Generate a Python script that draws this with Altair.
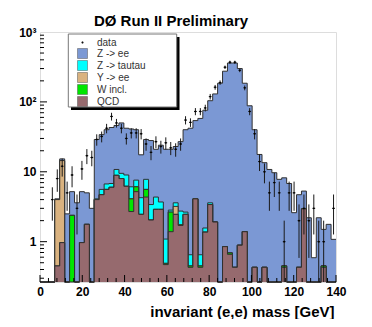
import altair as alt
import numpy as np
import pandas as pd

# ---------------- data ----------------
X_MIN, X_MAX, N_BINS = 0.0, 140.0, 60
Y_MIN, Y_MAX = 0.265, 1000.0

data_counts = [0, 0, 4, 8, 12, 5, 9, 3, 11, 17,
               16, 29, 32, 42, 62, 50, 42, 30, 36, 36,
               35, 25, 19, 27, 23, 26, 22, 21, 25, 55,
               51, 73, 73, 82, 119, 162, 189, 313, 369, 369,
               283, 159, 73, 35, 14, 10, 5, 7, 5, 1,
               5, 5, 2, 3, 2, 3, 1, 1, 0, 3]

qcd = [0, 0, 0, 0.45, 0.97, 0, 0, 0, 0.97, 1.77,
       0, 4.0, 4.7, 5.6, 6.0, 8.9, 8.0, 6.2, 2.7, 5.2,
       2.46, 4.35, 2.04, 2.9, 2.9, 0.47, 1.39, 2.46, 1.71, 2.46,
       0.43, 4.1, 0.43, 1.37, 3.4, 1.91, 0, 0.85, 0.66, 0.43,
       0.89, 1.39, 0, 0.43, 0, 0.43, 0, 0, 0, 0.43,
       0, 0, 0.43, 2.95, 0, 0, 0, 0.43, 0, 0]

w_incl = [0, 0, 0, 0, 0, 0, 2.38, 0, 0, 0,
          0, 0, 0, 0, 0, 0, 0, 0, 1.4, 0.9,
          0, 1.25, 0, 0, 0, 0.02, 1.26, 0, 0.03, 0,
          0.02, 0, 0.02, 0, 0, 0, 0, 0, 0.03, 0,
          0, 0, 0, 0, 0, 0, 0, 0, 0, 0.02,
          0, 0, 0, 0, 0, 0, 0, 0.02, 0, 0]

y_ee = [0, 0, 0, 3.55, 13.5, 0, 0, 0, 0, 0,
        0, 0, 0, 0, 0, 0, 0, 0, 0, 0,
        0, 0, 0, 0, 0, 0, 0, 0.74, 0, 0,
        0, 0, 0, 0, 0, 0, 0, 0, 0, 0,
        0, 0, 0, 0, 0, 0, 0, 0, 0, 0,
        0, 0, 0, 0, 0, 0, 0, 0, 0, 0]

z_tautau = [0, 0, 0, 0, 0, 0, 0, 0, 0, 0,
            0, 0.1, 0.9, 1.1, 0.8, 1.9, 1.5, 2.8, 2.0, 1.5,
            1.8, 2.2, 1.36, 1.45, 0.8, 0.6, 0.18, 0.4, 1.0, 0.19,
            0.2, 0, 0.2, 0.2, 0.2, 0, 0, 0, 0, 0,
            0, 0, 0, 0, 0, 0, 0, 0, 0, 0,
            0, 0, 0, 0, 0, 0, 0, 0, 0, 0]

# top of the full stack (Z -> ee drawn on top of everything)
stack_total = [0, 0, 0, 4.1, 15.3, 2.5, 5.2, 3.6, 5.2, 5.0,
               3.0, 29, 34, 40, 43, 46, 50, 42, 41, 40,
               17.5, 29, 28, 21, 24, 21, 21, 23, 27, 40,
               42, 54, 58, 76, 104, 130, 185, 275, 360, 360,
               300, 185, 88, 40, 17.7, 13.5, 10.8, 9.7, 7.8, 8.2,
               6.8, 2.6, 4.7, 5.3, 2.2, 0.59, 2.2, 1.5, 1.77, 1.08]

series_labels = ["data", "Z -> ee", "Z -> tautau", "Y -> ee", "W incl.", "QCD"]
series_colors = ["#000000", "#7b98d4", "#00ffff", "#d9b27f", "#00e600", "#966a6e"]
title_text = "DØ Run II Preliminary"
x_title = "invariant (e,e) mass [GeV]"
x_tick_values = [0, 20, 40, 60, 80, 100, 120, 140]
x_minor_values = [v for v in range(0, 141, 4) if v % 20 != 0]
y_tick_values = [1, 10, 100, 1000]
y_minor_values = [m * d for d in (0.1, 1, 10, 100) for m in range(2, 10) if m * d > Y_MIN]

# ---------------- layout / style ----------------
W, H = 296, 250
FONT = "Liberation Sans"
OUTLINE = "#303030"
FLOOR = 0.1

edges = np.linspace(X_MIN, X_MAX, N_BINS + 1)
centers = 0.5 * (edges[:-1] + edges[1:])
bw = edges[1] - edges[0]

c_qcd = np.array(qcd, float)
c_w = c_qcd + np.array(w_incl, float)
c_y = c_w + np.array(y_ee, float)
c_tt = c_y + np.array(z_tautau, float)
c_tot = np.maximum(np.array(stack_total, float), c_tt)

xscale = alt.Scale(domain=[X_MIN, X_MAX], nice=False, zero=False)
yscale = alt.Scale(type="log", domain=[Y_MIN, Y_MAX], nice=False, clamp=True)

xaxis = alt.Axis(values=x_tick_values, title=x_title, ticks=False,
                 domain=False, grid=False, labelFlush=False, labelOverlap=False,
                 labelFont=FONT, labelFontSize=12, labelFontWeight="bold",
                 labelColor="black", labelPadding=4,
                 titleFont=FONT, titleFontSize=15, titleFontWeight="bold",
                 titleColor="black", titleAlign="right", titleAnchor="end",
                 titleX=W - 2, titleY=34, titleBaseline="alphabetic")
yaxis = alt.Axis(values=y_tick_values, title=None, ticks=False, domain=False, grid=False,
                 labelOverlap=False,
                 labelExpr="datum.value >= 999 ? '10³' : datum.value >= 99 ? '10²' : datum.value >= 9 ? '10' : '1'",
                 labelFont=FONT, labelFontSize=12, labelFontWeight="bold",
                 labelColor="black", labelPadding=4)


def step_df(vals):
    v = np.maximum(np.asarray(vals, float), FLOOR)
    return pd.DataFrame({"edge": edges, "val": np.append(v, v[-1])})


def hist_layers(vals, color):
    df = step_df(vals)
    base = alt.Chart(df)
    area = base.mark_area(interpolate="step-after", color=color, opacity=1).encode(
        x=alt.X("edge:Q", scale=xscale, axis=xaxis),
        y=alt.Y("val:Q", scale=yscale, axis=yaxis),
        y2=alt.value(H),
    )
    line = base.mark_line(interpolate="step-after", color=OUTLINE, strokeWidth=1).encode(
        x=alt.X("edge:Q", scale=xscale, axis=xaxis),
        y=alt.Y("val:Q", scale=yscale, axis=yaxis),
    )
    return [area, line]


layers = []
layers += hist_layers(c_tot, series_colors[1])
layers += hist_layers(c_tt, series_colors[2])
layers += hist_layers(c_y, series_colors[3])
layers += hist_layers(c_w, series_colors[4])
layers += hist_layers(c_qcd, series_colors[5])

# axis ticks pointing inward (ROOT style)
yt_major = alt.Chart(pd.DataFrame({"v": y_tick_values[:-1]})).mark_rule(color="black", strokeWidth=1).encode(
    y=alt.Y("v:Q", scale=yscale, axis=yaxis), x=alt.value(0), x2=alt.value(7))
yt_minor = alt.Chart(pd.DataFrame({"v": y_minor_values})).mark_rule(color="black", strokeWidth=1).encode(
    y=alt.Y("v:Q", scale=yscale, axis=yaxis), x=alt.value(0), x2=alt.value(4))
xt_major = alt.Chart(pd.DataFrame({"v": x_tick_values})).mark_rule(color="black", strokeWidth=1).encode(
    x=alt.X("v:Q", scale=xscale, axis=xaxis), y=alt.value(H), y2=alt.value(H - 7))
xt_minor = alt.Chart(pd.DataFrame({"v": x_minor_values})).mark_rule(color="black", strokeWidth=1).encode(
    x=alt.X("v:Q", scale=xscale, axis=xaxis), y=alt.value(H), y2=alt.value(H - 4))
layers += [yt_major, yt_minor, xt_major, xt_minor]

# data points with sqrt(N) errors
n = np.array(data_counts, float)
mask = n > 0
pts = pd.DataFrame({
    "center": centers[mask],
    "n": n[mask],
    "elo": np.maximum(n[mask] - np.sqrt(n[mask]), FLOOR),
    "ehi": n[mask] + np.sqrt(n[mask]),
    "xl": centers[mask] - 0.28 * bw,
    "xr": centers[mask] + 0.28 * bw,
    "series": "data",
})
err_v = alt.Chart(pts).mark_rule(color="#1a1a1a", strokeWidth=1).encode(
    x=alt.X("center:Q", scale=xscale, axis=xaxis),
    y=alt.Y("elo:Q", scale=yscale, axis=yaxis), y2="ehi:Q")
err_h = alt.Chart(pts).mark_rule(color="#1a1a1a", strokeWidth=1).encode(
    x=alt.X("xl:Q", scale=xscale, axis=xaxis), x2="xr:Q",
    y=alt.Y("n:Q", scale=yscale, axis=yaxis))

dot = "M-0.18,0A0.18,0.18,0,1,1,0.18,0A0.18,0.18,0,1,1,-0.18,0Z"
shapes = [dot] + ["square"] * 5
leg = alt.Legend(title=None, orient="none", legendX=37, legendY=5, direction="vertical",
                 symbolSize=100, labelFont=FONT, labelFontSize=10, labelColor="#333333",
                 labelOffset=9, rowPadding=-1, padding=0,
                 symbolStrokeColor="#555555", symbolStrokeWidth=0.5)
points = alt.Chart(pts).mark_point(filled=True, opacity=1, size=100, strokeWidth=0).encode(
    x=alt.X("center:Q", scale=xscale, axis=xaxis),
    y=alt.Y("n:Q", scale=yscale, axis=yaxis),
    color=alt.Color("series:N", scale=alt.Scale(domain=series_labels, range=series_colors), legend=leg),
    shape=alt.Shape("series:N", scale=alt.Scale(domain=series_labels, range=shapes), legend=leg),
)
layers += [err_v, err_h, points]

# legend frame with ROOT-like shadow
one = pd.DataFrame({"a": [0]})
shadow = alt.Chart(one).mark_rect(color="black").encode(
    x=alt.value(31), x2=alt.value(139.5), y=alt.value(5), y2=alt.value(78))
box = alt.Chart(one).mark_rect(fill="white", stroke="#777777", strokeWidth=1).encode(
    x=alt.value(28.3), x2=alt.value(136.7), y=alt.value(2), y2=alt.value(75))
layers += [shadow, box]

# chart title as text above the frame
title = alt.Chart(pd.DataFrame({"t": [title_text]})).mark_text(
    font=FONT, fontSize=15, fontWeight="bold", color="black", align="center", baseline="alphabetic"
).encode(text="t:N", x=alt.value(131), y=alt.value(-6))
layers += [title]

chart = alt.layer(*layers).properties(
    width=W, height=H,
    autosize=alt.AutoSizeParams(type="none"),
    padding={"left": 32, "top": 24, "right": 28, "bottom": 37},
).configure_view(stroke="#8a8a8a", strokeWidth=1.5).configure(background="white")

chart.save("out.html", embed_options={"renderer": "svg", "actions": False})
